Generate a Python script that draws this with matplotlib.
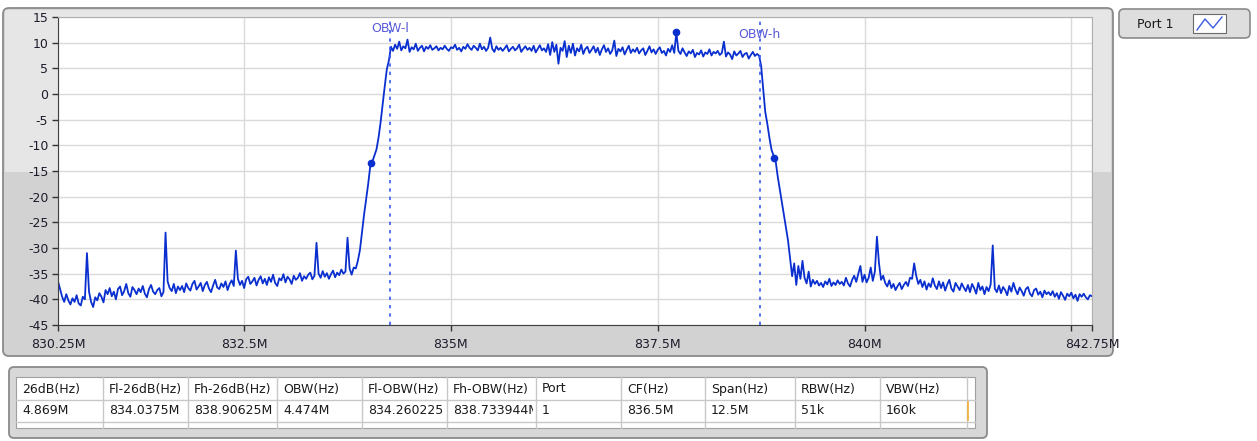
import numpy as np
import matplotlib.pyplot as plt
from matplotlib.patches import Rectangle, FancyBboxPatch

plt.rcParams['font.family'] = ['DejaVu Sans']
plt.rcParams['axes.unicode_minus'] = False

# spectre Port 1 : 830.25 MHz -> 842.75 MHz, pas de 25 kHz (dBm)
f_start = 830.25
f_step = 0.025
power_db = [
    -36.5, -38.0, -39.5, -40.5, -39.0, -40.2, -41.0, -39.8, -40.5, -39.2, -40.8, -41.2, -39.5, -40.0, -31.0, -38.5, -40.5, -41.5, -39.6, -40.2,
    -38.8, -39.5, -40.6, -38.2, -39.0, -37.8, -39.4, -38.5, -40.0, -38.0, -37.5, -39.2, -38.4, -37.0, -38.8, -39.5, -37.6, -38.2, -39.0, -37.9,
    -38.6, -37.4, -38.9, -39.6, -38.0, -37.2, -38.5, -39.0, -38.2, -37.8, -39.4, -38.6, -27.0, -36.5, -37.8, -38.4, -37.0, -38.8, -37.5, -38.2,
    -37.4, -38.6, -36.9, -37.8, -38.3, -37.0, -36.4, -38.1, -37.5, -36.8, -38.4, -37.2, -36.6, -37.9, -38.6, -37.3, -36.2, -37.7, -38.0, -36.9,
    -37.6, -36.5, -38.2, -37.0, -36.3, -37.4, -30.5, -36.0, -37.2, -36.4, -37.8, -36.1, -35.6, -37.0, -36.5, -35.8, -37.3, -36.2, -35.5, -36.9,
    -36.0, -37.2, -35.7, -36.6, -35.2, -36.8, -37.4, -35.9, -36.3, -35.1, -36.7, -35.6, -36.1, -37.0, -35.4, -36.2, -35.8, -34.9, -36.4, -35.5,
    -36.0, -35.2, -34.8, -36.1, -35.4, -29.0, -35.0, -35.8, -34.5, -35.6, -34.9, -36.0, -35.1, -34.4, -35.7, -34.8, -35.3, -34.2, -35.0, -34.6,
    -28.0, -34.0, -35.2, -33.8, -34.0, -32.5, -30.4, -27.0, -23.5, -20.5, -17.5, -14.0, -13.2, -12.0, -10.8, -8.5, -5.5, -2.0, 1.5, 4.8,
    6.5, 9.2, 8.4, 9.6, 8.8, 10.2, 8.5, 9.3, 8.9, 10.6, 8.2, 9.1, 8.7, 9.8, 8.4, 9.0, 9.4, 8.3, 9.2, 8.8,
    9.5, 8.6, 8.9, 9.3, 8.5, 9.0, 8.7, 9.4, 8.8, 8.4, 9.1, 8.9, 9.6, 8.6, 9.0, 8.3, 9.2, 8.8, 9.7, 9.0,
    8.6, 9.4, 9.0, 8.5, 9.8, 8.7, 9.2, 8.4, 9.0, 11.0, 8.8, 8.2, 9.3, 8.6, 9.0, 8.4, 8.9, 9.5, 8.3, 8.8,
    9.2, 8.5, 8.9, 9.6, 8.2, 8.8, 9.3, 8.6, 9.0, 8.4, 9.4, 8.1, 8.8, 9.5, 8.5, 8.9, 8.2, 9.7, 7.6, 10.1,
    8.2, 9.6, 5.9, 9.0, 8.4, 10.3, 7.2, 9.4, 8.0, 9.8, 7.5, 8.9, 8.3, 9.6, 7.8, 8.8, 9.2, 8.0, 8.6, 9.3,
    8.1, 9.0, 7.6, 8.7, 9.5, 8.2, 8.9, 7.8, 8.5, 10.4, 7.4, 8.8, 8.3, 9.1, 7.7, 8.6, 9.4, 8.0, 8.7, 8.2,
    9.0, 7.9, 8.5, 8.9, 7.6, 8.4, 9.3, 8.1, 8.7, 7.8, 8.6, 9.1, 8.0, 8.4, 7.5, 8.8, 8.2, 9.5, 8.0, 12.0,
    8.4, 7.8, 8.9, 8.1, 7.4, 8.3, 7.9, 8.6, 7.2, 8.0, 7.7, 8.5, 7.3, 8.1, 7.8, 8.7, 7.5, 8.2, 7.9, 8.4,
    7.6, 8.0, 10.2, 7.3, 8.1, 7.7, 6.8, 8.3, 7.5, 7.9, 8.4, 7.2, 7.8, 8.0, 6.9, 7.6, 8.2, 7.4, 7.8, 7.5,
    5.5, 1.0, -3.5, -5.8, -8.5, -10.8, -12.0, -13.0, -16.0, -18.5, -21.0, -23.5, -26.0, -28.5, -32.0, -35.5, -33.0, -37.2, -33.5, -36.0,
    -32.5, -35.8, -36.9, -34.6, -37.5, -36.2, -37.0, -36.4, -37.3, -36.8, -37.6, -36.5, -37.1, -36.0, -37.4, -36.7, -37.2, -36.3, -37.0, -36.6,
    -37.3, -35.8, -36.9, -37.5, -36.2, -35.4, -36.6, -35.0, -33.5, -36.6, -35.2, -36.7, -35.8, -33.8, -36.4, -34.6, -27.8, -33.0, -36.2, -35.4,
    -36.8, -37.5, -36.3, -37.8, -37.0, -38.2, -37.4, -36.8, -38.0, -37.2, -36.6, -37.4, -35.8, -36.0, -33.0, -35.4, -37.0, -36.2, -37.6, -36.5,
    -38.1, -36.9, -37.6, -35.9, -37.3, -38.0, -36.5, -37.8, -36.7, -38.3, -37.1, -36.2, -37.9, -38.5, -36.8, -37.5, -38.2, -36.9, -37.7, -38.4,
    -37.2, -38.6, -37.0, -37.8, -38.9, -36.8, -38.2, -37.5, -39.0, -37.6, -38.4, -37.1, -29.5, -37.9, -38.6, -37.3, -38.8, -37.6, -38.2, -39.2,
    -37.4, -38.5, -36.8, -38.1, -39.0, -37.7, -38.4, -39.3, -38.0, -37.6, -38.9, -39.4, -38.2, -37.9, -39.1, -38.5, -39.6, -38.3, -39.0, -38.6,
    -39.2, -38.4, -39.5, -38.8, -39.9, -38.6, -39.3, -40.1, -38.9, -39.4, -38.7, -39.8, -39.1, -40.3, -39.0, -39.5, -38.9, -39.6, -40.0, -39.2, -39.4,
]
freq = f_start + f_step * np.arange(len(power_db))

obw_freq = [834.260225, 838.733944]
obw_names = ['OBW-l', 'OBW-h']
obw_text_y = [12.8, 11.5]
marker_freq = [834.0375, 838.90625, 837.72]
marker_db = [-13.5, -12.5, 12.0]

x_ticks = [830.25, 832.5, 835, 837.5, 840, 842.5, 842.75]
x_labels = ['830.25M', '832.5M', '835M', '837.5M', '840M', '', '842.75M']
y_ticks = list(range(-45, 16, 5))

col_names = ['26dB(Hz)', 'Fl-26dB(Hz)', 'Fh-26dB(Hz)', 'OBW(Hz)', 'Fl-OBW(Hz)', 'Fh-OBW(Hz)',
             'Port', 'CF(Hz)', 'Span(Hz)', 'RBW(Hz)', 'VBW(Hz)']
col_values = ['4.869M', '834.0375M', '838.90625M', '4.474M', '834.260225M', '838.733944M',
              '1', '836.5M', '12.5M', '51k', '160k']
col_edges = [16, 103, 188, 277, 362, 447, 536, 621, 705, 795, 880, 967]

W, H = 1257, 441
trace_col = '#0a2fcf'

fig = plt.figure(figsize=(W / 100, H / 100), dpi=100)
bg = fig.add_axes([0, 0, 1, 1])
bg.set_xlim(0, W)
bg.set_ylim(H, 0)
bg.axis('off')

# cadre du graphe
bg.add_patch(FancyBboxPatch((3, 8), 1110, 348, boxstyle='round,pad=0,rounding_size=6',
                            fc='#d2d2d2', ec='#8a8a8a', lw=1.3))
bg.add_patch(Rectangle((5, 10), 1106, 162, fc='#e6e6e6', ec='none'))

# legende
bg.add_patch(FancyBboxPatch((1119, 9), 131, 29, boxstyle='round,pad=0,rounding_size=5',
                            fc='#dedede', ec='#8a8a8a', lw=1.2))
bg.text(1155, 24, 'Port 1', ha='center', va='center', fontsize=9, color='#1a1a1a')
bg.add_patch(Rectangle((1193, 14), 33, 19, fc='white', ec='#6a6a6a', lw=0.8))
bg.plot([1197, 1205, 1213, 1222], [30, 19, 28, 17], color='#3a5ae0', lw=1)

# tableau
bg.add_patch(FancyBboxPatch((9, 367), 978, 71, boxstyle='round,pad=0,rounding_size=5',
                            fc='#d8d8d8', ec='#8a8a8a', lw=1.3))
bg.add_patch(Rectangle((16, 377), 959, 51, fc='white', ec='#a0a0a0', lw=0.8))
for yy in [400, 422]:
    bg.plot([16, 975], [yy, yy], color='#c8c8c8', lw=1)
for xx in col_edges[1:]:
    bg.plot([xx, xx], [377, 428], color='#c8c8c8', lw=1)
for i, name in enumerate(col_names):
    x0 = col_edges[i]
    x1 = col_edges[i + 1]
    for txt, yc in [(name, 389), (col_values[i], 411)]:
        t = bg.text(x0 + 6, yc, txt, ha='left', va='center', fontsize=9, color='#1a1a1a')
        cell = Rectangle((x0, yc - 11), x1 - x0 - 3, 22, transform=bg.transData)
        t.set_clip_path(cell)
        t.set_clip_on(True)
bg.plot([968, 968], [402, 420], color='#f0b030', lw=1.2)

# graphe principal
ax = fig.add_axes([58 / W, 1 - 325 / H, (1092 - 58) / W, (325 - 17) / H])
ax.set_facecolor('white')
ax.plot(freq, power_db, color=trace_col, lw=1.3)
ax.plot(marker_freq, marker_db, 'o', color=trace_col, ms=4.5)
for f, name, ty in zip(obw_freq, obw_names, obw_text_y):
    ax.axvline(f, color='#3a5cf0', ls=(0, (2, 3)), lw=1.2)
    ax.text(f, ty, name, ha='center', va='center', fontsize=9, color='#5a5ad8')

ax.set_xlim(830.25, 842.75)
ax.set_ylim(-45, 15)
ax.set_xticks(x_ticks)
ax.set_xticklabels(x_labels)
ax.set_yticks(y_ticks)
ax.set_yticklabels([str(v) for v in y_ticks])
ax.grid(color='#dadada', lw=1)
ax.tick_params(direction='out', length=4, width=1, color='#333333', labelsize=9,
               labelcolor='#1c1c2c')
ax.tick_params(axis='x', pad=5)
ax.tick_params(axis='y', pad=3)
for s in ['top', 'right']:
    ax.spines[s].set_color('#b0b0b0')
for s in ['left', 'bottom']:
    ax.spines[s].set_color('#404040')

fig.savefig('out.png', dpi=100)
